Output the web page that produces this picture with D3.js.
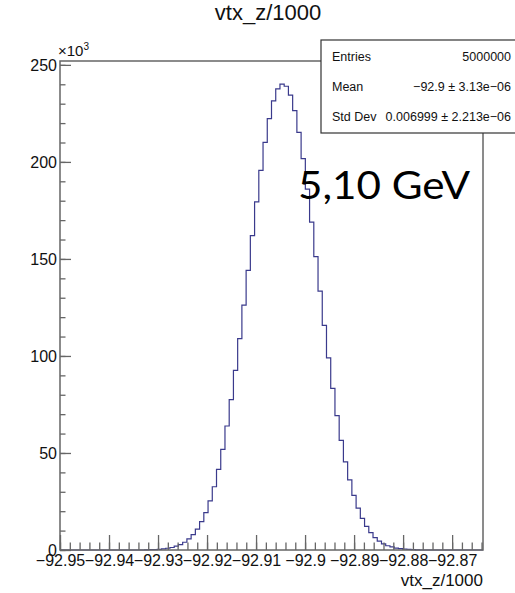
<!DOCTYPE html>
<html>
<head>
<meta charset="utf-8">
<script src="https://cdn.jsdelivr.net/npm/d3@7"></script>
<style>
body { margin: 0; background: #fff; }
</style>
</head>
<body>
<div id="mainContainer"></div>
<script>
var histTitle = "vtx_z/1000";
var axisTitleX = "vtx_z/1000";
var energyLabel = "5,10 GeV";

// histogram binning (100 bins, ROOT default)
var xMin = -92.95, xMax = -92.8637, nBins = 100;

// bin contents in units of 10^3
var binCounts = [
    0, 0, 0, 0, 0, 0, 0, 0, 0, 0,
    0, 0, 0, 0, 0, 0, 0, 0, 0, 0,
    0.1, 0.15, 0.23, 0.37, 0.6, 0.9, 1.3, 2.0, 2.8, 4.0,
    5.7, 7.9, 10.8, 14.6, 19.3, 25.3, 32.6, 41.5, 51.9, 63.9,
    77.5, 92.6, 108.9, 126.2, 144.1, 162.0, 179.4, 195.6, 210.1, 222.3,
    231.5, 237.6, 240.1, 239.0, 234.4, 226.4, 215.2, 201.7, 186.0, 169.0,
    151.2, 133.4, 115.8, 99.0, 83.3, 69.2, 56.5, 45.4, 36.1, 28.1,
    21.6, 16.3, 12.2, 9.0, 6.4, 4.6, 3.2, 2.2, 1.6, 1.0,
    0.7, 0.44, 0.28, 0.17, 0.1, 0, 0, 0, 0, 0,
    0, 0, 0, 0, 0, 0, 0, 0, 0, 0
];

var xTickValues = [-92.95, -92.94, -92.93, -92.92, -92.91, -92.9, -92.89, -92.88, -92.87];
var yTickValues = [0, 50, 100, 150, 200, 250];
var yMax = 252;

var statNames = ["Entries", "Mean", "Std Dev"];
var statValues = ["5000000", "\u221292.9 \u00b1 3.13e\u221206", "0.006999 \u00b1 2.213e\u221206"];

var font = "'Liberation Sans', Arial, Helvetica, sans-serif";
var lineColor = "#3a3a8c";
var frameColor = "#666";

var margin = { top: 61, right: 32, bottom: 43, left: 60 },
    width = 515 - margin.left - margin.right,
    height = 593 - margin.top - margin.bottom;

var svg = d3.select('#mainContainer').append('svg')
    .attr('width', 515)
    .attr('height', 593)
    .style('display', 'block');

var g = svg.append('g')
    .attr('transform', 'translate(' + margin.left + ',' + margin.top + ')');

var xscale = d3.scaleLinear().domain([xMin, xMax]).range([0, width]);
var yscale = d3.scaleLinear().domain([0, yMax]).range([height, 0]);

// histogram outline
var binWidth = (xMax - xMin) / nBins;
var pts = [[xMin, 0]];
binCounts.forEach(function (c, i) {
    pts.push([xMin + i * binWidth, c]);
    pts.push([xMin + (i + 1) * binWidth, c]);
});
pts.push([xMax, 0]);

var line = d3.line()
    .x(function (d) { return xscale(d[0]); })
    .y(function (d) { return yscale(d[1]); });

g.append("path")
    .datum(pts)
    .attr("d", line)
    .attr("fill", "none")
    .attr("stroke", lineColor)
    .attr("stroke-width", 1.2);

// frame
g.append("rect")
    .attr("x", 0).attr("y", 0)
    .attr("width", width).attr("height", height)
    .attr("fill", "none")
    .attr("stroke", frameColor)
    .attr("stroke-width", 1.5);

var fmtX = function (d) { return String(+d.toFixed(2)).replace("-", "\u2212"); };

var xMinor = d3.range(0, 46).map(function (i) { return +(xMin + i * 0.002).toFixed(3); })
    .filter(function (v) { return v <= xMax; });
var yMinor = d3.range(0, 26).map(function (i) { return i * 10; });

g.append("g")
    .attr("transform", "translate(0," + height + ")")
    .call(d3.axisBottom(xscale).tickValues(xMinor).tickSizeInner(-7.5).tickSizeOuter(0).tickFormat(""))
    .call(function (a) { a.select(".domain").remove(); a.selectAll("line").attr("stroke", frameColor).attr("stroke-width", 1.3); });

g.append("g")
    .attr("transform", "translate(0," + height + ")")
    .call(d3.axisBottom(xscale).tickValues(xTickValues).tickSizeInner(-15).tickSizeOuter(0).tickPadding(5).tickFormat(fmtX))
    .call(function (a) {
        a.select(".domain").remove();
        a.selectAll("line").attr("stroke", frameColor).attr("stroke-width", 1.3);
        a.selectAll("text").attr("font-family", font).attr("font-size", "16px").attr("fill", "#111");
    });

g.append("g")
    .call(d3.axisLeft(yscale).tickValues(yMinor).tickSizeInner(-5.5).tickSizeOuter(0).tickFormat(""))
    .call(function (a) { a.select(".domain").remove(); a.selectAll("line").attr("stroke", frameColor).attr("stroke-width", 1.3); });

g.append("g")
    .call(d3.axisLeft(yscale).tickValues(yTickValues).tickSizeInner(-11).tickSizeOuter(0).tickPadding(3))
    .call(function (a) {
        a.select(".domain").remove();
        a.selectAll("line").attr("stroke", frameColor).attr("stroke-width", 1.3);
        a.selectAll("text").attr("font-family", font).attr("font-size", "16px").attr("fill", "#111");
    });

// x10^3 exponent label
var expo = svg.append("text")
    .attr("x", margin.left - 2)
    .attr("y", margin.top - 5)
    .attr("font-family", font)
    .attr("font-size", "15px")
    .attr("fill", "#111");
expo.append("tspan").text("\u00d710");
expo.append("tspan").attr("font-size", "10px").attr("dy", "-6").text("3");

// title
svg.append("text")
    .attr("x", 268)
    .attr("y", 20)
    .attr("text-anchor", "middle")
    .attr("font-family", font)
    .attr("font-size", "22px")
    .attr("fill", "#111")
    .text(histTitle);

// x axis title
svg.append("text")
    .attr("x", margin.left + width)
    .attr("y", 586)
    .attr("text-anchor", "end")
    .attr("font-family", font)
    .attr("font-size", "17px")
    .attr("fill", "#111")
    .text(axisTitleX);

// stats box
var box = svg.append("g").attr("transform", "translate(321,40)");
box.append("rect")
    .attr("x", 0).attr("y", 0)
    .attr("width", 210).attr("height", 93)
    .attr("fill", "#fff")
    .attr("stroke", "#333")
    .attr("stroke-width", 1.2);
statNames.forEach(function (s, i) {
    var yy = 18 + i * 30;
    box.append("text")
        .attr("x", 11).attr("y", yy)
        .attr("dominant-baseline", "middle")
        .attr("font-family", font).attr("font-size", "12.5px").attr("fill", "#111")
        .text(s);
    box.append("text")
        .attr("x", 190).attr("y", yy)
        .attr("dominant-baseline", "middle")
        .attr("text-anchor", "end")
        .attr("font-family", font).attr("font-size", "12.5px").attr("fill", "#111")
        .text(statValues[i]);
});

// energy annotation
svg.append("text")
    .attr("x", 298)
    .attr("y", 199)
    .attr("font-family", "Lato, 'Open Sans', sans-serif")
    .attr("font-size", "39px")
    .attr("fill", "#000")
    .attr("textLength", 172)
    .attr("lengthAdjust", "spacingAndGlyphs")
    .text(energyLabel);
</script>
</body>
</html>
